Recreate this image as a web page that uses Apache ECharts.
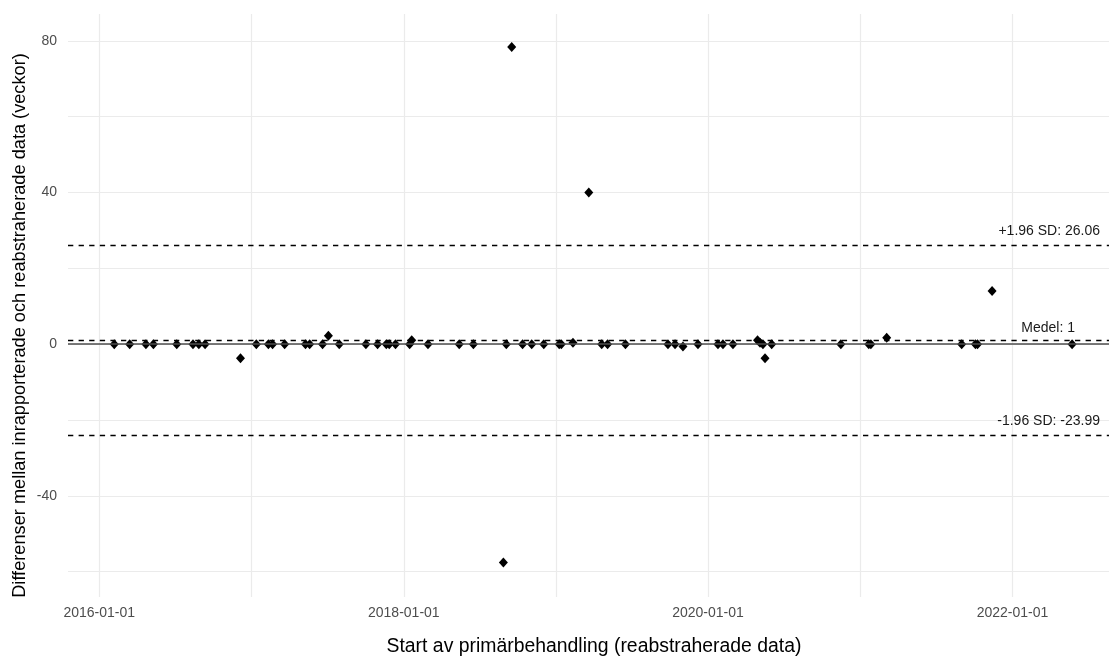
<!DOCTYPE html>
<html><head><meta charset="utf-8">
<script src="https://cdn.jsdelivr.net/npm/echarts@6/dist/echarts.min.js"></script>
<style>html,body{margin:0;padding:0;background:#fff}#c{width:1109px;height:657px}</style>
</head><body><div id="c"></div>
<script>
// ---- data ----
const dates = ['2016-02-06','2016-03-14','2016-04-22','2016-05-10','2016-07-05','2016-08-13','2016-08-27','2016-09-11','2016-12-05',
'2017-01-12','2017-02-10','2017-02-20','2017-03-21','2017-05-10','2017-05-20','2017-06-20','2017-07-04','2017-07-30','2017-10-02','2017-10-30','2017-11-20','2017-11-27','2017-12-12',
'2018-01-15','2018-01-20','2018-02-28','2018-05-14','2018-06-17','2018-08-28','2018-09-04','2018-09-17','2018-10-13','2018-11-04','2018-12-03',
'2019-01-09','2019-01-14','2019-02-11','2019-03-21','2019-04-21','2019-05-05','2019-06-17','2019-09-27','2019-10-14','2019-11-02','2019-12-08',
'2020-01-25','2020-02-06','2020-03-01','2020-04-29','2020-05-05','2020-05-12','2020-05-17','2020-06-02','2020-11-15',
'2021-01-21','2021-01-26','2021-03-05','2021-09-01','2021-10-04','2021-10-09','2021-11-13','2022-05-24'];
const diffs = [0,0,0,0,0,0,0,0,-3.7,
0,0,0,0,0,0,0,2.2,0,0,0,0,0,0,
0,1,0,0,0,-57.6,0,78.4,0,0,0,
0,0,0.4,40,0,0,0,0,0,-0.6,0,
0,0,0,1,0.4,0,-3.7,0,0,
0,0,1.7,0,0,0,14,0];
const meanDiff = 1;
const upperLoA = 26.06;
const lowerLoA = -23.99;
const xTickLabels = ['2016-01-01','2018-01-01','2020-01-01','2022-01-01'];
const yTickLabels = [-40, 0, 40, 80];
const xTitle = 'Start av primärbehandling (reabstraherade data)';
const yTitle = 'Differenser mellan inrapporterade och reabstraherade data (veckor)';

const pad = n => (n < 10 ? '0' : '') + n;
const fmtDate = d => d.getFullYear() + '-' + pad(d.getMonth() + 1) + '-' + pad(d.getDate());
const points = dates.map((d, i) => [d, diffs[i]]);
const FONT = '"Liberation Sans", Arial, sans-serif';
const YEAR = 365 * 24 * 3600 * 1000;

const chart = echarts.init(document.getElementById('c'), null, {renderer: 'canvas'});
chart.setOption({
  animation: false,
  backgroundColor: '#fff',
  textStyle: {fontFamily: FONT},
  grid: {left: 68, right: -11, top: 14, bottom: 60, containLabel: false, outerBoundsMode: 'none'},
  xAxis: {
    type: 'time',
    min: '2015-10-18', max: '2022-09-16',
    minInterval: YEAR, maxInterval: YEAR + 2 * 24 * 3600 * 1000,
    splitNumber: 7,
    name: xTitle, nameLocation: 'middle', nameGap: 40, nameMoveOverlap: false,
    nameTextStyle: {fontSize: 19.4, color: '#000', fontFamily: FONT},
    axisLine: {show: false}, axisTick: {show: false},
    axisLabel: {
      show: true, margin: 9, fontSize: 14, color: '#4d4d4d', fontFamily: FONT,
      showMinLabel: false, showMaxLabel: false, hideOverlap: false,
      formatter: v => { const s = fmtDate(new Date(v)); return xTickLabels.includes(s) ? s : ''; }
    },
    splitLine: {show: true, showMinLine: false, showMaxLine: false, lineStyle: {color: '#ebebeb', width: 1.2}},
    minorTick: {show: false}, minorSplitLine: {show: false}
  },
  yAxis: {
    type: 'value',
    min: -66.7, max: 87.1, splitNumber: 8,
    name: yTitle, nameLocation: 'middle', nameGap: 39, nameRotate: 90, nameMoveOverlap: false,
    nameTextStyle: {fontSize: 18.2, color: '#000', fontFamily: FONT, padding: [0, 40, 0, 0]},
    axisLine: {show: false}, axisTick: {show: false},
    axisLabel: {
      margin: 11, fontSize: 14, color: '#4d4d4d', fontFamily: FONT,
      formatter: v => (yTickLabels.includes(v) ? String(v) : '')
    },
    splitLine: {show: true, showMinLine: false, showMaxLine: false, lineStyle: {color: '#ebebeb', width: 1.2}}
  },
  series: [
    {
      type: 'line', data: [], z: 1, silent: true,
      markLine: {
        silent: true, symbol: ['none', 'none'], animation: false,
        lineStyle: {color: '#000', type: [5.3, 5.3], width: 1.3},
        label: {show: true, position: 'insideEndTop', color: '#1a1a1a', fontSize: 14, fontFamily: FONT},
        data: [
          {yAxis: 0, lineStyle: {type: 'solid', color: '#4d4d4d', width: 1.6}, label: {show: false}},
          {yAxis: meanDiff, label: {formatter: 'Medel: ' + meanDiff, distance: [45, 5]}},
          {yAxis: upperLoA, label: {formatter: '+1.96 SD: ' + upperLoA.toFixed(2), distance: [20, 7]}},
          {yAxis: lowerLoA, label: {formatter: '-1.96 SD: ' + lowerLoA.toFixed(2), distance: [20, 7]}}
        ]
      }
    },
    {
      type: 'scatter', data: points, z: 3,
      symbol: 'diamond', symbolSize: [9, 10],
      itemStyle: {color: '#000', opacity: 1}
    }
  ]
});
</script>
</body></html>
